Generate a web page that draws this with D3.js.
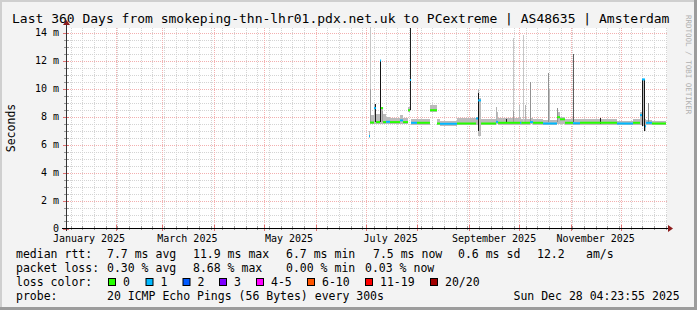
<!DOCTYPE html>
<html>
<head>
<meta charset="utf-8">
<script src="https://cdn.jsdelivr.net/npm/d3@7"></script>
<style>
  body { margin: 0; background: #f3f3f3; }
  svg text { font-family: "DejaVu Sans Mono", monospace; fill: #000; }
</style>
</head>
<body>
<div id="chart"></div>
<script>
// graph window
var endTime = "2025-12-28 04:23:55";
var spanDays = 360;
var spikeHours = 14.4; // one pixel worth of rrd rows

// x axis labels (every second month)
var labelMonths = ["2025-01-01", "2025-03-01", "2025-05-01", "2025-07-01", "2025-09-01", "2025-11-01"];
var labelTexts = ["January 2025", "March 2025", "May 2025", "July 2025", "September 2025", "November 2025"];

// y axis labels
var yTicks = [0, 2, 4, 6, 8, 10, 12, 14];
var yLabels = ["0", "2 m", "4 m", "6 m", "8 m", "10 m", "12 m", "14 m"];

// median rtt (ms) as steps: start time, value, loss class, smoke min / max
var stepStart = [
  "2025-07-03 00:00", "2025-07-03 14:00", "2025-07-06 00:00", "2025-07-07 05:00", "2025-07-09 14:00",
  "2025-07-10 05:00", "2025-07-11 10:00", "2025-07-13 05:00", "2025-07-15 14:00", "2025-07-21 14:00",
  "2025-07-23 10:00", "2025-07-26 10:00", "2025-07-27 14:00", "2025-07-28 05:00", "2025-07-31 19:00",
  "2025-08-08 14:00", "2025-08-12 19:00", "2025-08-14 14:00", "2025-08-24 19:00", "2025-09-05 05:00",
  "2025-09-06 10:00", "2025-09-08 05:00", "2025-09-17 05:00", "2025-09-18 10:00", "2025-10-01 14:00",
  "2025-10-02 10:00", "2025-10-07 14:00", "2025-10-09 10:00", "2025-10-15 10:00", "2025-10-23 19:00",
  "2025-10-25 14:00", "2025-10-28 14:00", "2025-11-02 10:00", "2025-11-06 14:00", "2025-11-28 19:00",
  "2025-12-08 10:00", "2025-12-12 14:00", "2025-12-13 19:00", "2025-12-15 14:00", "2025-12-16 05:00",
  "2025-12-19 19:00"
];
var stepMedian = [
  6.6, 7.57, 8.6, 7.6, 12.0,
  8.6, 7.6, 7.62, 7.6, 7.72,
  7.6, 8.45, 10.6, 7.55, 7.55,
  8.45, 7.5, 7.48, 7.5, 7.86,
  9.15, 7.5, 7.62, 7.55, 7.55,
  7.55, 7.6, 7.55, 7.5, 7.95,
  7.8, 7.55, 7.52, 7.55, 7.5,
  7.55, 8.1, 10.65, 7.3, 7.55,
  7.5
];
var stepLoss = [
  1, 0, 1, 0, 1,
  0, 0, 1, 0, 1,
  0, 0, 1, 1, 0,
  0, 0, 1, 0, 1,
  1, 0, 1, 0, 1,
  0, 1, 0, 1, 0,
  0, 0, 1, 0, 1,
  0, 1, 1, 1, 1,
  0
];
var stepSmokeLo = [
  6.5, 7.45, 7.5, 7.45, 7.5,
  7.5, 7.45, 7.45, 7.45, 7.5,
  7.45, 8.3, 8.4, 7.4, 7.4,
  8.3, 7.4, 7.35, 7.4, 7.4,
  6.6, 7.4, 7.45, 7.4, 7.4,
  7.4, 7.45, 7.4, 7.4, 7.5,
  7.5, 7.4, 7.4, 7.4, 7.4,
  7.4, 7.4, 7.3, 7.0, 7.4,
  7.4
];
var stepSmokeHi = [
  7.0, 8.1, 8.9, 8.2, 12.0,
  8.7, 8.2, 8.0, 7.9, 8.1,
  7.9, 8.7, 10.6, 7.85, 7.8,
  8.8, 7.8, 7.7, 7.9, 8.0,
  9.3, 7.8, 8.3, 7.9, 7.95,
  7.85, 7.9, 7.8, 7.75, 8.3,
  8.0, 7.85, 7.8, 7.8, 7.7,
  7.8, 8.3, 10.7, 7.8, 7.75,
  7.7
];

// smoke spikes: time, low, high, number of the 20 pings in it
var spikeTime = [
  "2025-07-03 14:00", "2025-07-03 14:00", "2025-07-06 10:00", "2025-07-09 14:00", "2025-07-10 19:00",
  "2025-07-27 14:00", "2025-09-06 10:00", "2025-09-06 10:00", "2025-09-17 05:00", "2025-09-23 05:00",
  "2025-09-27 10:00", "2025-09-27 10:00", "2025-10-01 00:00", "2025-10-03 10:00", "2025-10-04 14:00",
  "2025-10-07 14:00", "2025-10-18 10:00", "2025-10-19 00:00", "2025-10-23 19:00", "2025-11-02 10:00",
  "2025-11-18 14:00", "2025-12-13 19:00", "2025-12-15 05:00", "2025-12-17 10:00"
];
var spikeLow = [
  7.6, 7.6, 7.6, 7.6, 7.6,
  8.45, 7.0, 9.7, 7.6, 7.6,
  7.6, 7.6, 7.6, 7.6, 7.6,
  7.6, 7.6, 7.6, 7.6, 7.6,
  7.5, 7.3, 7.0, 7.6
];
var spikeHigh = [
  14.4, 10.0, 8.9, 12.0, 8.4,
  14.35, 9.75, 10.0, 8.7, 7.85,
  13.6, 8.4, 8.8, 13.8, 8.8,
  10.5, 11.1, 10.0, 8.6, 12.5,
  7.9, 10.65, 10.65, 8.95
];
var spikeCount = [
  2, 6, 18, 19, 6,
  18, 19, 4, 4, 18,
  2, 6, 3, 2, 4,
  7, 7, 3, 7, 12,
  18, 19, 19, 8
];

var lossLabels = ["0", "1", "2", "3", "4-5", "6-10", "11-19", "20/20"];
var lossColors = ["#26ff00", "#00b8ff", "#0059ff", "#7e00ff", "#ff00ff", "#ff5500", "#ff0000", "#a10000"];

(function() {
    var width = 697;
    var height = 310;
    var parse = d3.timeParse("%Y-%m-%d %H:%M");
    var parseFull = d3.timeParse("%Y-%m-%d %H:%M:%S");
    var parseDay = d3.timeParse("%Y-%m-%d");

    var end = parseFull(endTime);
    var start = d3.timeHour.offset(end, -spanDays * 24);

    var svg = d3.select("#chart").append("svg")
        .attr("width", width)
        .attr("height", height);

    // background + 3d frame
    svg.append("rect").attr("width", width).attr("height", height).attr("fill", "#f3f3f3");
    svg.append("path").attr("d", "M0,0H697V2H2V310H0Z").attr("fill", "#cfcfcf");
    svg.append("path").attr("d", "M697,0V310H0V307H694V0Z").attr("fill", "#9c9c9c");

    var x = d3.scaleTime().domain([start, end]).range([66, 666]);
    var y = d3.scaleLinear().domain([0, 14.3]).range([228.5, 28.3]);
    var px = function(v) { return Math.round(v) + 0.5; };

    // plot canvas
    svg.append("rect")
        .attr("x", 66).attr("y", 28)
        .attr("width", 601).attr("height", 201)
        .attr("fill", "#fff");

    var grid = svg.append("g").attr("shape-rendering", "crispEdges");

    // minor grid
    var minorY = d3.range(0.5, 14.01, 0.5).filter(function(v) { return v % 2 !== 0; });
    grid.selectAll(".hminor").data(minorY).enter().append("line")
        .attr("x1", 66).attr("x2", 667)
        .attr("y1", function(d) { return px(y(d)); })
        .attr("y2", function(d) { return px(y(d)); })
        .attr("stroke", "#d4d4d4")
        .attr("stroke-dasharray", "1,1");
    var weeks = d3.timeSunday.range(start, end);
    grid.selectAll(".vminor").data(weeks).enter().append("line")
        .attr("x1", function(d) { return px(x(d)); })
        .attr("x2", function(d) { return px(x(d)); })
        .attr("y1", 28).attr("y2", 228)
        .attr("stroke", "#d4d4d4")
        .attr("stroke-dasharray", "1,1");

    // major grid
    var majorY = yTicks.filter(function(v) { return v > 0; });
    grid.selectAll(".hmajor").data(majorY).enter().append("line")
        .attr("x1", 66).attr("x2", 667)
        .attr("y1", function(d) { return px(y(d)); })
        .attr("y2", function(d) { return px(y(d)); })
        .attr("stroke", "#f3b0b0")
        .attr("stroke-dasharray", "1,1");
    var months = d3.timeMonth.range(start, end);
    grid.selectAll(".vmajor").data(months).enter().append("line")
        .attr("x1", function(d) { return px(x(d)); })
        .attr("x2", function(d) { return px(x(d)); })
        .attr("y1", 28).attr("y2", 228)
        .attr("stroke", "#f3b0b0")
        .attr("stroke-dasharray", "1,1");

    // step table
    var steps = stepStart.map(function(s, i) {
        var t0 = parse(s);
        var t1 = i + 1 < stepStart.length ? parse(stepStart[i + 1]) : end;
        return { t0: t0, t1: t1, med: stepMedian[i], loss: stepLoss[i], lo: stepSmokeLo[i], hi: stepSmokeHi[i] };
    });
    var spikes = spikeTime.map(function(s, i) {
        return { t: parse(s), lo: spikeLow[i], hi: spikeHigh[i], n: spikeCount[i] };
    });

    var smokeColor = d3.scaleLinear().domain([1, 20]).range(["#d0d0d0", "#0a0a0a"]);

    var smoke = svg.append("g").attr("shape-rendering", "crispEdges");
    smoke.selectAll(".band").data(steps).enter().append("rect")
        .attr("x", function(d) { return Math.round(x(d.t0)); })
        .attr("width", function(d) { return Math.max(1, Math.round(x(d.t1)) - Math.round(x(d.t0))); })
        .attr("y", function(d) { return y(d.hi); })
        .attr("height", function(d) { return y(d.lo) - y(d.hi); })
        .attr("fill", smokeColor(3));

    smoke.selectAll(".spike").data(spikes).enter().append("rect")
        .attr("x", function(d) { return Math.round(x(d.t)); })
        .attr("width", function(d) {
            return Math.max(1, Math.round(x(d3.timeMinute.offset(d.t, spikeHours * 60))) - Math.round(x(d.t)));
        })
        .attr("y", function(d) { return y(d.hi); })
        .attr("height", function(d) { return y(d.lo) - y(d.hi); })
        .attr("fill", function(d) { return smokeColor(d.n); });

    // median line coloured by loss
    var med = svg.append("g");
    med.selectAll("path").data(steps).enter().append("path")
        .attr("d", function(d) {
            return "M" + x(d.t0) + "," + y(d.med) + "H" + x(d.t1);
        })
        .attr("fill", "none")
        .attr("stroke", function(d) { return lossColors[d.loss]; })
        .attr("stroke-width", 2);

    // axes
    var axes = svg.append("g").attr("shape-rendering", "crispEdges");
    axes.selectAll(".ytick").data(d3.range(0, 14.01, 0.5)).enter().append("line")
        .attr("x1", function(d) { return d % 2 === 0 ? 63 : 64; }).attr("x2", 69)
        .attr("y1", function(d) { return px(y(d)); })
        .attr("y2", function(d) { return px(y(d)); })
        .attr("stroke", function(d) { return d % 2 === 0 ? "#e07070" : "#999"; });
    axes.selectAll(".xtickm").data(weeks).enter().append("line")
        .attr("x1", function(d) { return px(x(d)); })
        .attr("x2", function(d) { return px(x(d)); })
        .attr("y1", 226).attr("y2", 230)
        .attr("stroke", "#999");
    axes.selectAll(".xtickM").data(months).enter().append("line")
        .attr("x1", function(d) { return px(x(d)); })
        .attr("x2", function(d) { return px(x(d)); })
        .attr("y1", 225).attr("y2", 231)
        .attr("stroke", "#e07070");
    axes.append("line").attr("x1", 66.5).attr("x2", 66.5).attr("y1", 231).attr("y2", 24)
        .attr("stroke", "#333");
    axes.append("line").attr("x1", 62).attr("x2", 669).attr("y1", 228.5).attr("y2", 228.5)
        .attr("stroke", "#000");
    svg.append("path").attr("d", "M63,25L66.5,20L70,25Z").attr("fill", "#8c1c1c");
    svg.append("path").attr("d", "M668,225L673,228.5L668,232Z").attr("fill", "#8c1c1c");

    // tick labels
    svg.selectAll(".ylab").data(yTicks).enter().append("text")
        .attr("x", 59)
        .attr("y", function(d) { return y(d) + 3.5; })
        .attr("text-anchor", "end")
        .style("font-size", "10px")
        .text(function(d, i) { return yLabels[i]; });

    svg.selectAll(".xlab").data(labelMonths).enter().append("text")
        .attr("x", function(d) { return x(d3.timeDay.offset(parseDay(d), 15)); })
        .attr("y", 242)
        .attr("text-anchor", "middle")
        .style("font-size", "10px")
        .text(function(d, i) { return labelTexts[i]; });

    // title, axis title, watermark
    svg.append("text").attr("x", 12).attr("y", 23)
        .style("font-size", "13px")
        .text("Last 360 Days from smokeping-thn-lhr01.pdx.net.uk to PCextreme | AS48635 | Amsterdam");
    svg.append("text")
        .attr("transform", "translate(14.5,128) rotate(-90)")
        .attr("text-anchor", "middle")
        .style("font-size", "11.5px")
        .text("Seconds");
    svg.append("text")
        .attr("transform", "translate(686,15) rotate(90)")
        .style("font-size", "7.5px")
        .style("fill", "#b0b0b0")
        .text("RRDTOOL / TOBI OETIKER");

    // legend
    var legend = svg.append("g").style("font-size", "11.5px");
    function put(xp, yp, s) { legend.append("text").attr("x", xp).attr("y", yp).attr("xml:space", "preserve").text(s); }
    put(16, 258, "median rtt:");
    put(107, 258, "7.7 ms avg");
    put(193, 258, "11.9 ms max");
    put(286, 258, "6.7 ms min");
    put(373, 258, "7.5 ms now");
    put(458, 258, "0.6 ms sd");
    put(537, 258, "12.2");
    put(586, 258, "am/s");
    put(16, 272, "packet loss:");
    put(107, 272, "0.30 % avg");
    put(193, 272, "8.68 % max");
    put(286, 272, "0.00 % min");
    put(365, 272, "0.03 % now");
    put(16, 286, "loss color:");
    var boxX = [108, 145.5, 182.5, 219, 256, 307, 365, 430];
    lossLabels.forEach(function(l, i) {
        legend.append("rect")
            .attr("x", boxX[i] + 0.5).attr("y", 278.5)
            .attr("width", 7).attr("height", 7)
            .attr("fill", lossColors[i])
            .attr("stroke", "#000");
        put(boxX[i] + 15, 286, l);
    });
    put(16, 300, "probe:");
    put(107, 300, "20 ICMP Echo Pings (56 Bytes) every 300s");
    put(513.5, 300, "Sun Dec 28 04:23:55 2025");
})();
</script>
</body>
</html>
